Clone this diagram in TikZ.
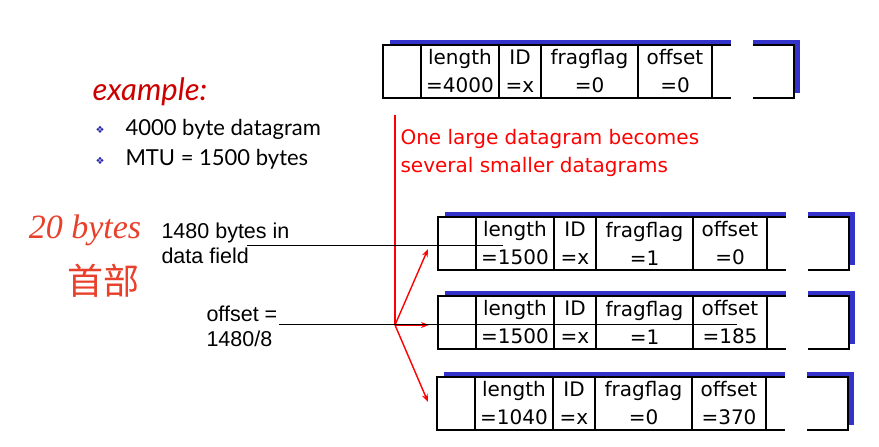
\documentclass[tikz,border=0pt]{standalone}
\usepackage{fontspec}
\usetikzlibrary{arrows.meta, positioning}
\setmainfont{Liberation Sans}
\newfontfamily\cellfont{DejaVu Sans}
\newfontfamily\gillfont{Lato}
\newfontfamily\inkfont{Liberation Serif}
\newfontfamily\cjkfont{Noto Sans CJK SC}

\definecolor{shadowblue}{RGB}{51,51,204}
\definecolor{exred}{RGB}{204,0,0}
\definecolor{inkred}{RGB}{232,64,42}
\definecolor{bulletblue}{RGB}{40,40,170}

\tikzset{
  cell/.style={draw, line width=1.2pt, fill=white, outer sep=0pt, inner sep=0pt,
    minimum height=53pt, align=center, font=\cellfont\fontsize{20}{28}\selectfont},
  shade/.style={fill=shadowblue},
  bullet/.style={text=bulletblue, font=\cellfont\fontsize{10}{10}\selectfont},
  point/.style={anchor=west, font=\gillfont\fontsize{22}{26}\selectfont},
  note/.style={anchor=west, align=left, font=\fontsize{21.5}{25}\selectfont},
  ink/.style={text=inkred},
  redline/.style={red, line width=1.4pt},
  leader/.style={black, line width=0.9pt}
}

% one datagram: name, top-left corner, length, fragflag, offset
\newcommand{\dgram}[5]{%
  \begin{scope}[shift={#2}]
    \fill[shade] (7,-5) rectangle (417,48);
    \node[cell, minimum width=38pt, anchor=north west] (#1-hd) at (0,0) {};
    \node[cell, minimum width=78pt, right=0pt of #1-hd] (#1-len) {length\\=#3};
    \node[cell, minimum width=42pt, right=0pt of #1-len] (#1-id) {ID\\=x};
    \node[cell, minimum width=97pt, right=0pt of #1-id] (#1-flag) {fragflag\\=#4};
    \node[cell, minimum width=74pt, right=0pt of #1-flag] (#1-off) {offset\\=#5};
    \node[cell, minimum width=82pt, right=0pt of #1-off] (#1-rest) {};
    \fill[white] (348,-7) rectangle (370,56);
  \end{scope}}

\begin{document}
\begin{tikzpicture}[x=1pt, y=-1pt]
    \useasboundingbox (0,0) rectangle (879,447);

    % original datagram and its three fragments
    \dgram{big}{(383,45)}{4000}{0}{0}
    \dgram{fragA}{(438,217)}{1500}{1}{0}
    \dgram{fragB}{(438,296)}{1500}{1}{185}
    \dgram{fragC}{(437,377)}{1040}{0}{370}

    % example text
    \node[anchor=west, text=exred, font=\gillfont\itshape\fontsize{31}{31}\selectfont] (example) at (89,92) {example:};
    \node[bullet] (dotA) at (100,130) {❖};
    \node[bullet] (dotB) at (100,161) {❖};
    \node[point] (size) at (122,129) {4000 byte datagram};
    \node[point] (mtu) at (122,159) {MTU = 1500 bytes};

    \node[note] (field) at (158,243) {1480 bytes in\\data field};
    \node[note] (calc) at (203,326) {offset =\\1480/8};

    % handwritten remark
    \node[ink, font=\inkfont\itshape\fontsize{34}{34}\selectfont] (hw) at (85,230) {20 bytes};
    \node[ink, font=\cjkfont\fontsize{36}{36}\selectfont] (hdr) at (103,281) {首部};

    \node[anchor=north west, align=left, text=red, font=\cellfont\fontsize{20}{28}\selectfont] (split-note) at (397,126) {One large datagram becomes\\several smaller datagrams};

    % fragmentation arrows
    \coordinate (redtop) at (395,115);
    \coordinate (split) at (395,325);
    \coordinate (tipA) at (428,249);
    \coordinate (tipB) at (429,325);
    \coordinate (tipC) at (428,402);
    \draw[redline] (redtop) -- (split);
    \draw[redline, -{Stealth[length=8pt, width=6pt]}] (split) -- (tipA);
    \draw[redline, -{Stealth[length=8pt, width=6pt]}] (split) -- (tipB);
    \draw[redline, -{Stealth[length=8pt, width=6pt]}] (split) -- (tipC);

    % leader lines into the first two fragments
    \coordinate (leadA) at (247,245);
    \coordinate (endA) at (503,245);
    \coordinate (leadB) at (279,324);
    \coordinate (endB) at (737,324);
    \draw[leader] (leadA) -- (endA);
    \draw[leader] (leadB) -- (endB);
\end{tikzpicture}
\end{document}
